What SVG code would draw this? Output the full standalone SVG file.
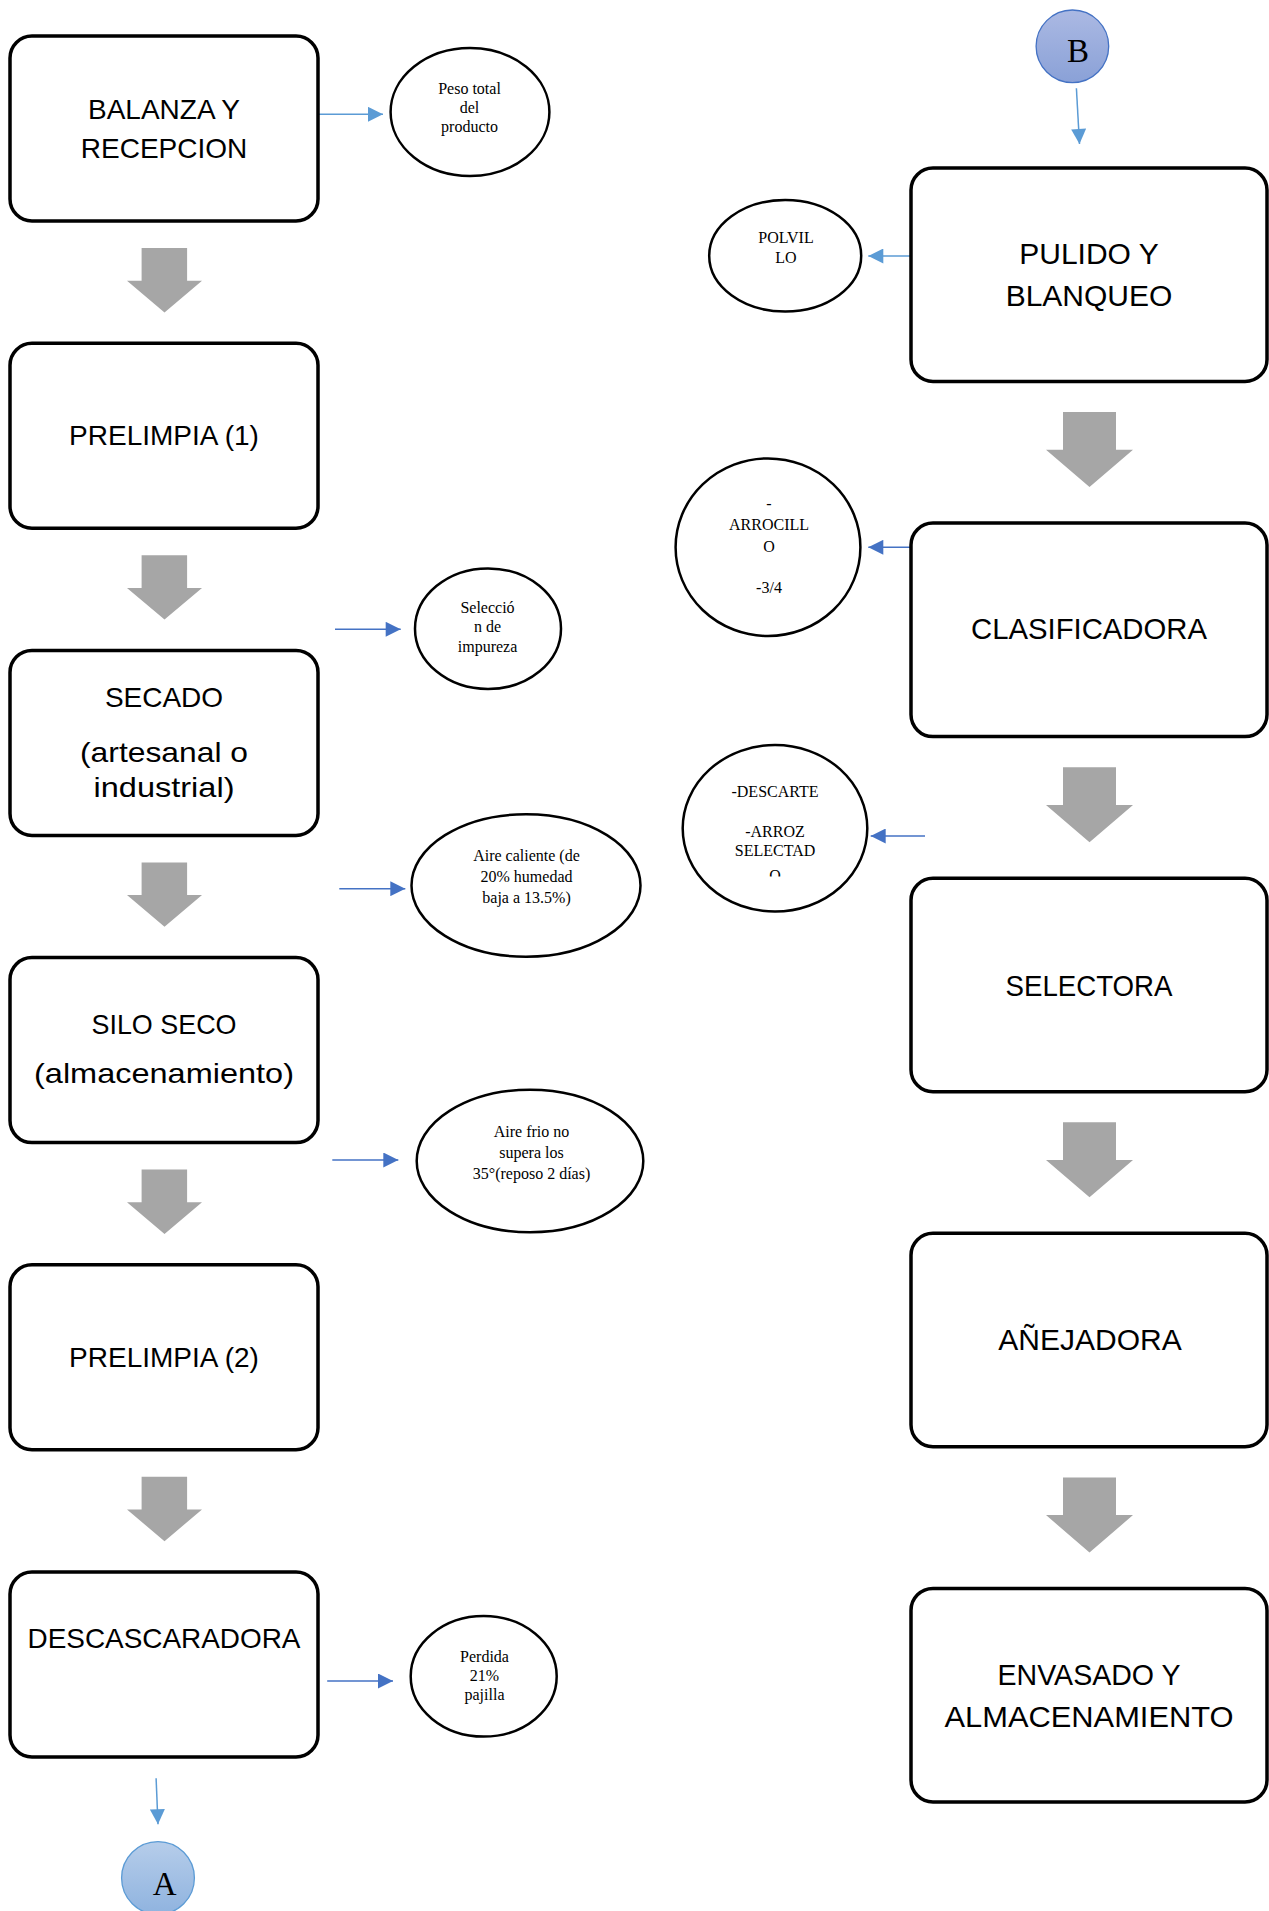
<svg xmlns="http://www.w3.org/2000/svg" width="1269" height="1911" viewBox="0 0 1269 1911">
<style>
.box{fill:#fff;stroke:#000;stroke-width:3.5}
.ell{fill:#fff;stroke:#000;stroke-width:2.5}
.bt{font-family:"Liberation Sans",Arial,sans-serif;fill:#000;text-anchor:middle}
.l{font-size:28px}
.r{font-size:30px}
.et{font-family:"Liberation Serif","Times New Roman",serif;font-size:16px;fill:#000;text-anchor:middle}
.ct{font-family:"Liberation Serif","Times New Roman",serif;font-size:33px;fill:#000;text-anchor:middle}
.blk{fill:#a6a6a6}
.a1{stroke:#5b9bd5;stroke-width:1.5;fill:none;marker-end:url(#m1)}
.a2{stroke:#4472c4;stroke-width:1.5;fill:none;marker-end:url(#m2)}
</style>
<defs>
<marker id="m1" viewBox="0 0 16 16" refX="16" refY="8" markerWidth="16" markerHeight="15" markerUnits="userSpaceOnUse" orient="auto"><path d="M0,0 L16,8 L0,16 Z" fill="#5b9bd5"/></marker>
<marker id="m2" viewBox="0 0 16 16" refX="16" refY="8" markerWidth="16" markerHeight="15" markerUnits="userSpaceOnUse" orient="auto"><path d="M0,0 L16,8 L0,16 Z" fill="#4472c4"/></marker>
<linearGradient id="gB" x1="0" y1="0" x2="0" y2="1"><stop offset="0" stop-color="#abb9e3"/><stop offset="1" stop-color="#8aa1d7"/></linearGradient>
<linearGradient id="gA" x1="0" y1="0" x2="0" y2="1"><stop offset="0" stop-color="#b6cdea"/><stop offset="1" stop-color="#8fb3df"/></linearGradient>
<clipPath id="clipO"><rect x="700" y="740" width="160" height="136.5"/></clipPath>
</defs>
<rect width="1269" height="1911" fill="#fff"/>

<g id="connectors">
<polygon class="blk" points="141.6,248 187.1,248 187.1,280.7 202,280.7 164.5,312.4 127,280.7 141.6,280.7"/>
<polygon class="blk" points="141.6,555.2 187.1,555.2 187.1,587.9 202,587.9 164.5,619.6 127,587.9 141.6,587.9"/>
<polygon class="blk" points="141.6,862.4 187.1,862.4 187.1,895.1 202,895.1 164.5,926.8 127,895.1 141.6,895.1"/>
<polygon class="blk" points="141.6,1169.6 187.1,1169.6 187.1,1202.3 202,1202.3 164.5,1234 127,1202.3 141.6,1202.3"/>
<polygon class="blk" points="141.6,1476.8 187.1,1476.8 187.1,1509.5 202,1509.5 164.5,1541.2 127,1509.5 141.6,1509.5"/>
<polygon class="blk" points="1063,412.1 1116,412.1 1116,449.8 1133,449.8 1089.5,487.1 1046,449.8 1063,449.8"/>
<polygon class="blk" points="1063,767.2 1116,767.2 1116,804.9 1133,804.9 1089.5,842.2 1046,804.9 1063,804.9"/>
<polygon class="blk" points="1063,1122.3 1116,1122.3 1116,1160 1133,1160 1089.5,1197.3 1046,1160 1063,1160"/>
<polygon class="blk" points="1063,1477.4 1116,1477.4 1116,1515.1 1133,1515.1 1089.5,1552.4 1046,1515.1 1063,1515.1"/>
<line class="a1" x1="317" y1="114.3" x2="383" y2="114.3"/>
<line class="a2" x1="335" y1="629.3" x2="400.7" y2="629.3"/>
<line class="a2" x1="339.3" y1="888.7" x2="405.3" y2="888.7"/>
<line class="a2" x1="332.3" y1="1160" x2="398.3" y2="1160"/>
<line class="a2" x1="327.2" y1="1681" x2="393" y2="1681"/>
<line class="a1" x1="156.1" y1="1778.3" x2="158" y2="1824.3"/>
<line class="a1" x1="1076.4" y1="88.3" x2="1079.5" y2="144"/>
<line class="a1" x1="923.2" y1="256" x2="868.3" y2="256"/>
<line class="a2" x1="922.4" y1="547.3" x2="868.3" y2="547.3"/>
<line class="a2" x1="925" y1="836" x2="870.7" y2="836"/>
</g>

<g id="n-balanza">
<rect class="box" x="10" y="36" width="308" height="185" rx="22"/>
<text class="bt l" x="164" y="119.3">BALANZA Y</text>
<text class="bt l" x="164" y="157.7">RECEPCION</text>
</g>
<g id="n-prelimpia1">
<rect class="box" x="10" y="343.2" width="308" height="185" rx="22"/>
<text class="bt l" x="164" y="445">PRELIMPIA (1)</text>
</g>
<g id="n-secado">
<rect class="box" x="10" y="650.4" width="308" height="185" rx="22"/>
<text class="bt l" x="164" y="706.7">SECADO</text>
<text class="bt l" x="164" y="761.5" textLength="168" lengthAdjust="spacingAndGlyphs">(artesanal o</text>
<text class="bt l" x="164" y="797.3" textLength="141" lengthAdjust="spacingAndGlyphs">industrial)</text>
</g>
<g id="n-silo">
<rect class="box" x="10" y="957.6" width="308" height="185" rx="22"/>
<text class="bt l" x="164" y="1034" textLength="145" lengthAdjust="spacingAndGlyphs">SILO SECO</text>
<text class="bt l" x="164" y="1083" textLength="260" lengthAdjust="spacingAndGlyphs">(almacenamiento)</text>
</g>
<g id="n-prelimpia2">
<rect class="box" x="10" y="1264.8" width="308" height="185" rx="22"/>
<text class="bt l" x="164" y="1366.7">PRELIMPIA (2)</text>
</g>
<g id="n-descascaradora">
<rect class="box" x="10" y="1572" width="308" height="185" rx="22"/>
<text class="bt l" x="164" y="1648.3" textLength="273" lengthAdjust="spacingAndGlyphs">DESCASCARADORA</text>
</g>

<g id="e-peso">
<ellipse class="ell" cx="470" cy="112" rx="79.4" ry="64"/>
<text class="et" x="469.5" y="94.3">Peso total</text>
<text class="et" x="469.5" y="113">del</text>
<text class="et" x="469.5" y="132">producto</text>
</g>
<g id="e-seleccion">
<ellipse class="ell" cx="488" cy="628.7" rx="73" ry="60.3"/>
<text class="et" x="487.5" y="612.7">Selecció</text>
<text class="et" x="487.5" y="632">n de</text>
<text class="et" x="487.5" y="651.5">impureza</text>
</g>
<g id="e-aire-caliente">
<ellipse class="ell" cx="526" cy="885.5" rx="114.5" ry="71.2"/>
<text class="et" x="526.5" y="860.7">Aire caliente  (de</text>
<text class="et" x="526.5" y="881.7">20% humedad</text>
<text class="et" x="526.5" y="902.7">baja a 13.5%)</text>
</g>
<g id="e-aire-frio">
<ellipse class="ell" cx="530" cy="1161" rx="113.3" ry="71.3"/>
<text class="et" x="531.5" y="1137.3">Aire frio no</text>
<text class="et" x="531.5" y="1157.5">supera  los</text>
<text class="et" x="531.5" y="1179">35°(reposo 2 días)</text>
</g>
<g id="e-perdida">
<ellipse class="ell" cx="483.7" cy="1676.3" rx="73" ry="60.3"/>
<text class="et" x="484.5" y="1661.7">Perdida</text>
<text class="et" x="484.5" y="1681">21%</text>
<text class="et" x="484.5" y="1700">pajilla</text>
</g>
<g id="c-a">
<circle cx="158" cy="1878" r="36.4" fill="url(#gA)" stroke="#5b9bd5" stroke-width="1.3"/>
<text class="ct" x="164.6" y="1895">A</text>
</g>

<g id="c-b">
<circle cx="1072.4" cy="46.3" r="36.3" fill="url(#gB)" stroke="#4472c4" stroke-width="1.3"/>
<text class="ct" x="1078" y="61.7">B</text>
</g>
<g id="n-pulido">
<rect class="box" x="911" y="168" width="356" height="213.5" rx="22"/>
<text class="bt r" x="1089" y="264">PULIDO Y</text>
<text class="bt r" x="1089" y="305.7">BLANQUEO</text>
</g>
<g id="n-clasificadora">
<rect class="box" x="911" y="523.1" width="356" height="213.5" rx="22"/>
<text class="bt r" x="1089" y="639.3" textLength="236" lengthAdjust="spacingAndGlyphs">CLASIFICADORA</text>
</g>
<g id="n-selectora">
<rect class="box" x="911" y="878.2" width="356" height="213.5" rx="22"/>
<text class="bt r" x="1089" y="995.5" textLength="167" lengthAdjust="spacingAndGlyphs">SELECTORA</text>
</g>
<g id="n-anejadora">
<rect class="box" x="911" y="1233.3" width="356" height="213.5" rx="22"/>
<text class="bt r" x="1090" y="1350.3">AÑEJADORA</text>
</g>
<g id="n-envasado">
<rect class="box" x="911" y="1588.4" width="356" height="213.5" rx="22"/>
<text class="bt r" x="1089" y="1685" textLength="183" lengthAdjust="spacingAndGlyphs">ENVASADO Y</text>
<text class="bt r" x="1089" y="1727.3" textLength="289" lengthAdjust="spacingAndGlyphs">ALMACENAMIENTO</text>
</g>

<g id="e-polvillo">
<ellipse class="ell" cx="785.2" cy="255.8" rx="76" ry="55.8"/>
<text class="et" x="786" y="242.7">POLVIL</text>
<text class="et" x="786" y="263.3">LO</text>
</g>
<g id="e-arrocillo">
<ellipse class="ell" cx="768" cy="547.2" rx="92.4" ry="88.8"/>
<text class="et" x="769" y="509">-</text>
<text class="et" x="769" y="529.5">ARROCILL</text>
<text class="et" x="769" y="551.5">O</text>
<text class="et" x="769" y="593">-3/4</text>
</g>
<g id="e-descarte">
<ellipse class="ell" cx="775" cy="828.3" rx="92.3" ry="83.3"/>
<text class="et" x="775" y="796.7">-DESCARTE</text>
<text class="et" x="775" y="837.3">-ARROZ</text>
<text class="et" x="775" y="856">SELECTAD</text>
<text class="et" x="775" y="881" clip-path="url(#clipO)">O</text>
</g>
</svg>
